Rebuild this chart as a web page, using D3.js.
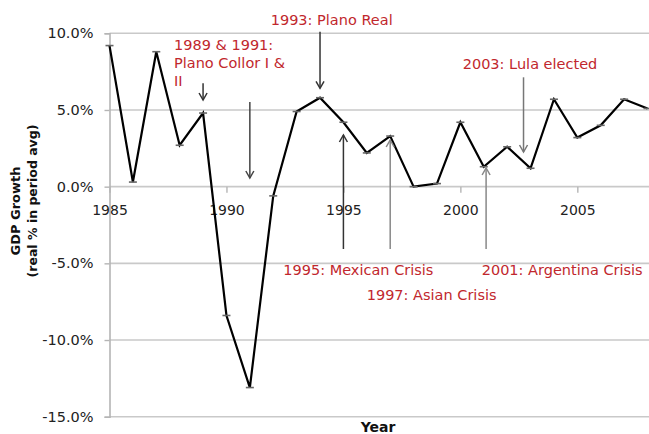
<!DOCTYPE html>
<html>
<head>
<meta charset="utf-8">
<script src="https://cdn.jsdelivr.net/npm/d3@7/dist/d3.min.js"></script>
<style>
  html, body { margin: 0; padding: 0; background: #fff; }
  svg { display: block; font-family: "DejaVu Sans", Verdana, sans-serif; }
</style>
</head>
<body>
<svg id="chart" width="649" height="434"></svg>
<script>
// Brazil real GDP growth, annual %
const years = d3.range(1985, 2009);
const growth = [9.2, 0.3, 8.8, 2.7, 4.8, -8.4, -13.1, -0.6, 4.9, 5.8, 4.2, 2.2,
                3.3, 0.0, 0.2, 4.2, 1.3, 2.6, 1.2, 5.7, 3.2, 4.0, 5.7, 5.1];

const yTicks = [10, 5, 0, -5, -10, -15];
const xTicks = [1985, 1990, 1995, 2000, 2005];

// Event notes: text lines and the year each arrow marks
const noteText = [
  ["1993: Plano Real"],
  ["1989 & 1991:", "Plano Collor I &", "II"],
  ["2003: Lula elected"],
  ["1995: Mexican Crisis"],
  ["1997: Asian Crisis"],
  ["2001: Argentina Crisis"]
];
const arrowYears = [[1994], [1989, 1991], [2002.7], [1995], [1997], [2001.1]];

const svg = d3.select("#chart");
const W = 649;

const x = d3.scaleLinear().domain([1985, 2008]).range([109.5, 647.5]);
const y = d3.scaleLinear().domain([-15, 10]).range([416.7, 33.3]);

const red = "#c1272d";

// horizontal gridlines
svg.append("g").selectAll("line").data(yTicks).join("line")
  .attr("x1", x(1985)).attr("x2", W)
  .attr("y1", d => y(d)).attr("y2", d => y(d))
  .attr("stroke", "#c9c9c9").attr("stroke-width", 1.6);

// y axis (plain hyphen for negatives)
const yAxis = d3.axisLeft(y).tickValues(yTicks).tickSize(5).tickPadding(11)
  .tickFormat(d => d.toFixed(1) + "%");
const gy = svg.append("g").attr("transform", `translate(${x(1985)},0)`).call(yAxis);
gy.select(".domain").attr("stroke", "#b5b5b5").attr("stroke-width", 1.6);
gy.selectAll(".tick line").attr("stroke", "#b5b5b5").attr("stroke-width", 1.4);
gy.selectAll(".tick text").attr("font-size", 14.5).attr("fill", "#222")
  .attr("font-family", "DejaVu Sans, sans-serif");

// x axis along zero
const xAxis = d3.axisBottom(x).tickValues(xTicks).tickSize(6).tickPadding(12)
  .tickFormat(d3.format("d"));
const gx = svg.append("g").attr("transform", `translate(0,${y(0)})`).call(xAxis);
gx.select(".domain").remove();
gx.selectAll(".tick line").attr("stroke", "#b5b5b5").attr("stroke-width", 1.4);
gx.selectAll(".tick text").attr("font-size", 14).attr("fill", "#222")
  .attr("font-family", "DejaVu Sans, sans-serif");

// axis titles
svg.append("text")
  .attr("transform", `translate(20,211) rotate(-90)`)
  .attr("text-anchor", "middle").attr("font-weight", "bold").attr("font-size", 13)
  .attr("fill", "#111").text("GDP Growth");
svg.append("text")
  .attr("transform", `translate(37,201) rotate(-90)`)
  .attr("text-anchor", "middle").attr("font-weight", "bold").attr("font-size", 12.5)
  .attr("fill", "#111").text("(real % in period avg)");
svg.append("text")
  .attr("x", 378).attr("y", 432)
  .attr("text-anchor", "middle").attr("font-weight", "bold").attr("font-size", 14)
  .attr("fill", "#111").text("Year");

// growth line
const pts = years.map((yr, i) => [yr, growth[i]]);
svg.append("path")
  .datum(pts)
  .attr("fill", "none").attr("stroke", "#000").attr("stroke-width", 2.2)
  .attr("d", d3.line().x(d => x(d[0])).y(d => y(d[1])));

// point markers
svg.append("g").selectAll("line").data(pts).join("line")
  .attr("x1", d => x(d[0]) - 4).attr("x2", d => x(d[0]) + 4)
  .attr("y1", d => y(d[1])).attr("y2", d => y(d[1]))
  .attr("stroke", "#666").attr("stroke-width", 1.6);

// note placement (pixels): text origin, arrow spans and colours
const noteLayout = [
  { tx: 270.7, ty: 25,    arrows: [[31.7, 88.3]],            col: ["#333"] },
  { tx: 174,   ty: 50,    arrows: [[83.3, 100], [102, 178]], col: ["#333", "#444"] },
  { tx: 462.7, ty: 69.3,  arrows: [[77.3, 152]],             col: ["#777"] },
  { tx: 283.3, ty: 274.5, arrows: [[249, 135]],              col: ["#333"] },
  { tx: 366.7, ty: 300,   arrows: [[249, 140]],              col: ["#888"] },
  { tx: 481.7, ty: 274.5, arrows: [[249, 168]],              col: ["#888"] }
];

const notes = svg.append("g");
noteText.forEach((lines, i) => {
  const L = noteLayout[i];
  const t = notes.append("text")
    .attr("x", L.tx).attr("y", L.ty)
    .attr("font-size", 14.5).attr("fill", red);
  lines.forEach((s, j) => {
    t.append("tspan").attr("x", L.tx).attr("y", L.ty + j * 18).text(s);
  });
  arrowYears[i].forEach((yr, k) => {
    const ax = x(yr);
    const [y1, y2] = L.arrows[k];
    const c = L.col[k];
    const dir = y2 > y1 ? 1 : -1;
    notes.append("line")
      .attr("x1", ax).attr("x2", ax).attr("y1", y1).attr("y2", y2)
      .attr("stroke", c).attr("stroke-width", 1.5);
    notes.append("path")
      .attr("d", `M${ax - 4},${y2 - dir * 7} L${ax},${y2} L${ax + 4},${y2 - dir * 7}`)
      .attr("fill", "none").attr("stroke", c).attr("stroke-width", 1.5);
  });
});
</script>
</body>
</html>
